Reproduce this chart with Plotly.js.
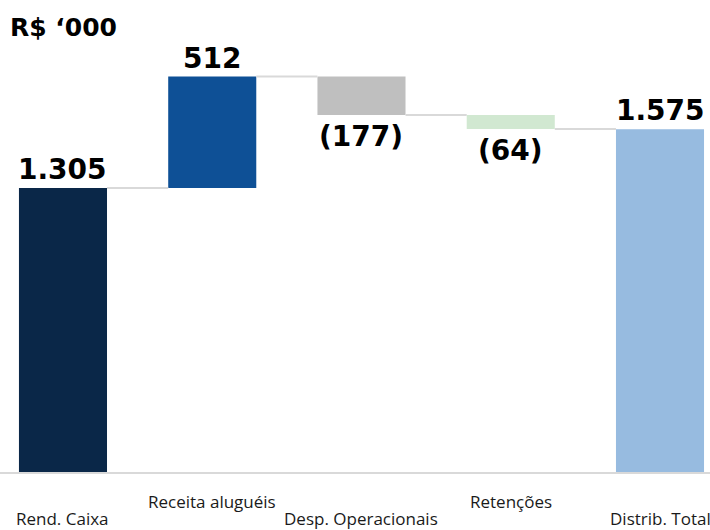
<!DOCTYPE html>
<html>
<head>
<meta charset="utf-8">
<script src="https://cdn.plot.ly/plotly-3.0.1.min.js"></script>
<style>html,body{margin:0;padding:0;background:#fff;}#chart{width:710px;height:530px;}</style>
</head>
<body>
<div id="chart"></div>
<script>
const categories = ['Rend. Caixa', 'Receita aluguéis', 'Desp. Operacionais', 'Retenções', 'Distrib. Total'];
const values = [1305, 512, -177, -64, 1575];
const measures = ['absolute', 'relative', 'relative', 'relative', 'total'];
const barColors = ['#0a2748', '#0e5096', '#bfbfbf', '#d1e8d1', '#97bbe0'];
const labelRows = ['low', 'high', 'low', 'high', 'low'];

const BAR_W = 0.59;
const xs = categories.map((_, i) => i);

const bases = [], heights = [], levels = [];
let running = 0;
values.forEach((v, i) => {
  const m = measures[i];
  if (m === 'absolute' || m === 'total') {
    bases.push(0); heights.push(v); running = v;
  } else {
    bases.push(v >= 0 ? running : running + v);
    heights.push(Math.abs(v));
    running += v;
  }
  levels.push(running);
});

function fmt(n) {
  const s = String(Math.abs(n)).replace(/\B(?=(\d{3})+(?!\d))/g, '.');
  return n < 0 ? '(' + s + ')' : s;
}

const barTrace = {
  type: 'bar', x: xs, y: heights, base: bases, width: BAR_W,
  marker: { color: barColors, line: { width: 0 } },
  hoverinfo: 'skip', showlegend: false
};

const cx = [], cy = [];
for (let i = 0; i < values.length - 1; i++) {
  cx.push(i + BAR_W / 2, i + 1 - BAR_W / 2, null);
  cy.push(levels[i], levels[i], null);
}
const connTrace = {
  type: 'scatter', mode: 'lines', x: cx, y: cy,
  line: { color: '#d9d9d9', width: 2 }, hoverinfo: 'skip', showlegend: false
};

const valueFont = { family: '"DejaVu Sans", sans-serif', size: 28, color: '#000', weight: 700 };
const annotations = [];
values.forEach((v, i) => {
  const neg = v < 0 && measures[i] === 'relative';
  annotations.push({
    x: i, y: neg ? bases[i] : bases[i] + heights[i], xref: 'x', yref: 'y',
    text: fmt(v), showarrow: false,
    yanchor: neg ? 'top' : 'bottom', xanchor: 'center',
    yshift: neg ? -3 : 0,
    font: valueFont
  });
  annotations.push({
    x: i, y: 0, xref: 'x', yref: 'paper',
    text: categories[i], showarrow: false,
    yanchor: 'middle', xanchor: 'center',
    yshift: labelRows[i] === 'high' ? -29 : -46,
    font: { family: '"Open Sans", sans-serif', size: 17, color: '#1a1a1a' }
  });
});

const layout = {
  width: 710, height: 530,
  margin: { l: 0, r: 0, t: 0, b: 58, pad: 0 },
  paper_bgcolor: '#fff', plot_bgcolor: '#fff',
  title: {
    text: 'R$ ‘000', xref: 'container', yref: 'container',
    x: 0.014, xanchor: 'left', y: 1 - 27 / 530, yanchor: 'middle',
    font: { family: '"DejaVu Sans", sans-serif', size: 25, color: '#000', weight: 700 }
  },
  xaxis: {
    range: [-0.422, 4.335], showgrid: false, zeroline: false,
    showticklabels: false, ticks: '', showline: true, linecolor: '#d9d9d9', linewidth: 2,
    fixedrange: true
  },
  yaxis: {
    range: [0, 2169], showgrid: false, zeroline: false, showticklabels: false,
    ticks: '', showline: false, fixedrange: true
  },
  annotations: annotations,
  showlegend: false
};

Plotly.newPlot('chart', [barTrace, connTrace], layout, { displayModeBar: false, staticPlot: true });
</script>
</body>
</html>
